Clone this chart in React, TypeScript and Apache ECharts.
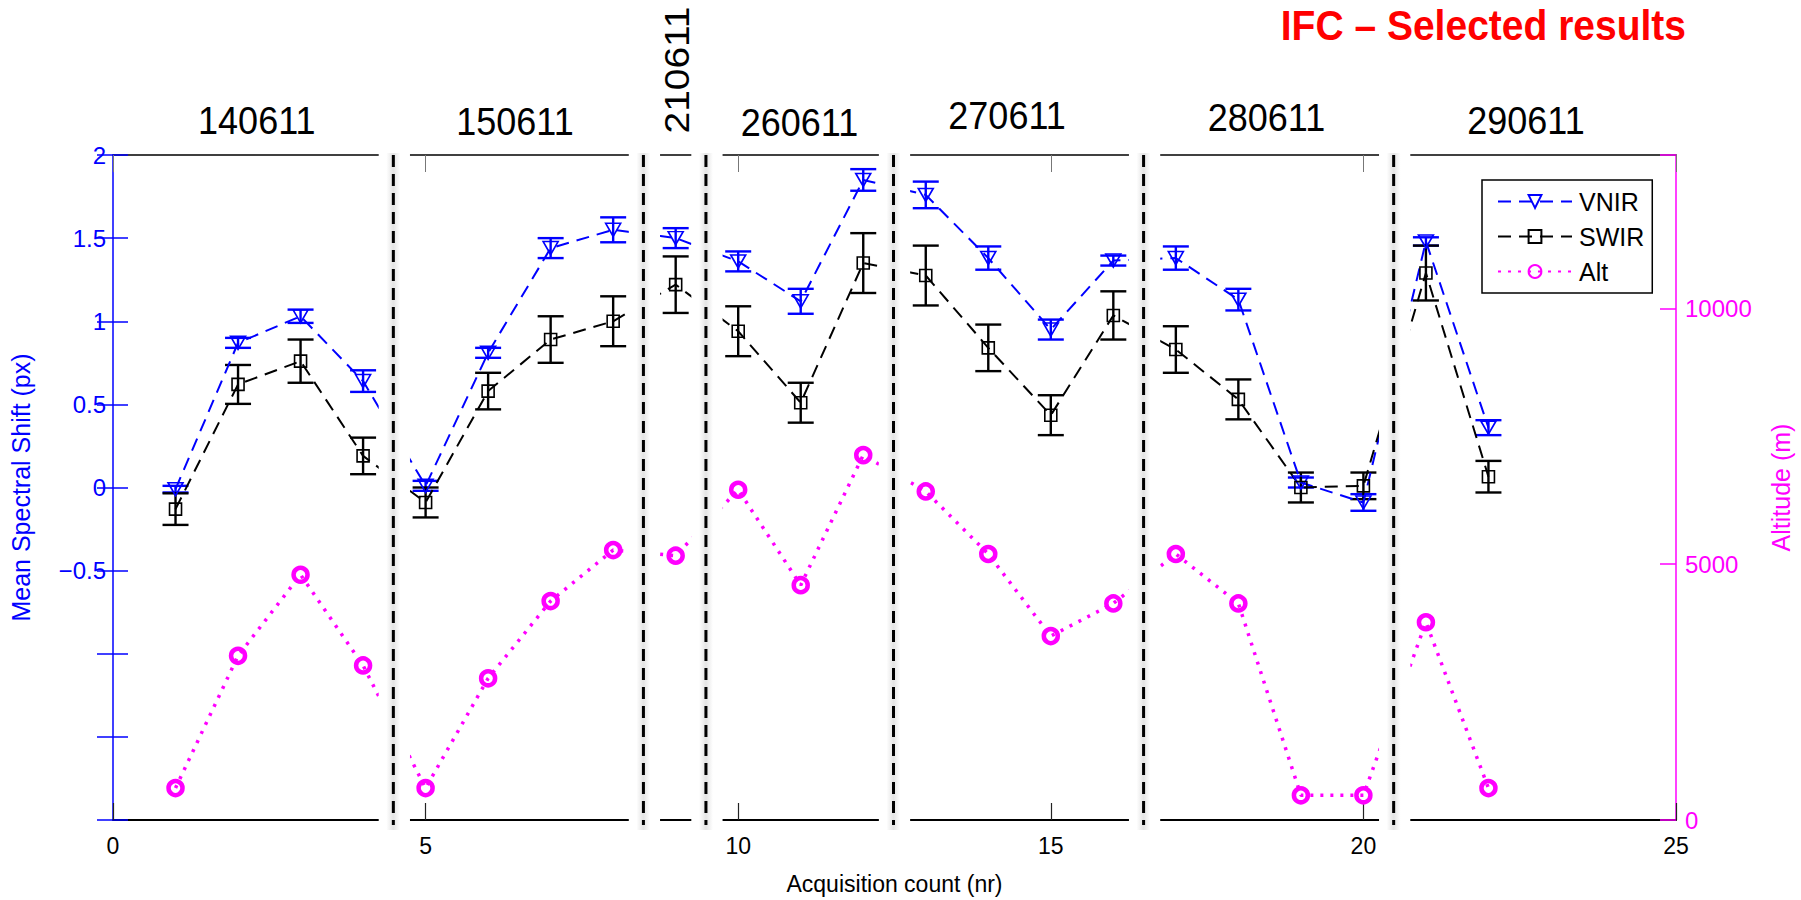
import React, { useEffect, useRef } from "react";
import * as echarts from "echarts";

// Acquisition index of each measurement
const acquisition = [1, 2, 3, 4, 5, 6, 7, 8, 9, 10, 11, 12, 13, 14, 15, 16, 17, 18, 19, 20, 21, 22];

// Mean spectral shift (px) and its standard error per acquisition
const vnirShift = [-0.01, 0.87, 1.03, 0.64, 0.01, 0.81, 1.44, 1.55, 1.5, 1.36, 1.12, 1.85, 1.76, 1.38, 0.95, 1.365, 1.38, 1.13, 0.03, -0.09, 1.48, 0.36];
const vnirErr = [0.02, 0.03, 0.04, 0.065, 0.03, 0.03, 0.06, 0.075, 0.06, 0.06, 0.075, 0.065, 0.08, 0.07, 0.06, 0.03, 0.07, 0.065, 0.03, 0.05, 0.025, 0.045];
const swirShift = [-0.13, 0.62, 0.76, 0.19, -0.09, 0.58, 0.89, 1.0, 1.22, 0.94, 0.51, 1.35, 1.275, 0.84, 0.435, 1.035, 0.83, 0.53, 0.0, 0.01, 1.29, 0.065];
const swirErr = [0.095, 0.117, 0.13, 0.11, 0.09, 0.11, 0.14, 0.15, 0.17, 0.15, 0.12, 0.18, 0.18, 0.14, 0.12, 0.145, 0.14, 0.12, 0.09, 0.08, 0.165, 0.095];

// Flight altitude (m)
const altitude = [624, 3209, 4794, 3022, 624, 2770, 4280, 5277, 5167, 6456, 4591, 7133, 6424, 5200, 3595, 4234, 5200, 4234, 483, 483, 3866, 624];

// Campaign days and the acquisition positions separating them
const campaignDates = ["140611", "150611", "210611", "260611", "270611", "280611", "290611"];
const campaignBreaks = [4.5, 8.5, 9.5, 12.5, 16.5, 20.5];

const FONT = '"Liberation Sans", Arial, Helvetica, sans-serif';
const BLUE = "#0000ff";
const MAGENTA = "#ff00ff";

function errorBars(values: number[], errs: number[]) {
  return acquisition.map((x, i) => [x, values[i] - errs[i], values[i] + errs[i]]);
}

function errorBarSeries(name: string, values: number[], errs: number[], color: string) {
  return {
    name,
    type: "custom",
    xAxisIndex: 0,
    yAxisIndex: 0,
    z: 2,
    silent: true,
    encode: { x: 0, y: [1, 2] },
    data: errorBars(values, errs),
    renderItem: (_params: any, api: any) => {
      const x = api.value(0);
      const lo = api.coord([x, api.value(1)]);
      const hi = api.coord([x, api.value(2)]);
      const hw = 13;
      const style = { stroke: color, lineWidth: 2.4, fill: null };
      return {
        type: "group",
        children: [
          { type: "line", shape: { x1: lo[0], y1: lo[1], x2: hi[0], y2: hi[1] }, style },
          { type: "line", shape: { x1: lo[0] - hw, y1: lo[1], x2: lo[0] + hw, y2: lo[1] }, style },
          { type: "line", shape: { x1: hi[0] - hw, y1: hi[1], x2: hi[0] + hw, y2: hi[1] }, style },
        ],
      };
    },
  };
}

export default function App() {
  const ref = useRef<HTMLDivElement>(null);

  useEffect(() => {
    if (!ref.current) return;
    const chart = echarts.init(ref.current, null, { renderer: "svg" });

    const option: any = {
      animation: false,
      backgroundColor: "#ffffff",
      textStyle: { fontFamily: FONT },
      grid: { left: 105, right: 121, top: 155, bottom: 71, containLabel: false },
      legend: {
        orient: "vertical",
        left: 1482,
        top: 180,
        data: ["VNIR", "SWIR", "Alt"],
        itemWidth: 74,
        itemHeight: 16,
        itemGap: 10,
        padding: [9, 8, 9, 15],
        borderColor: "#000",
        borderWidth: 1.5,
        borderRadius: 0,
        backgroundColor: "#fff",
        textStyle: { fontSize: 25, color: "#000", fontFamily: FONT, padding: [0, 0, 0, 2] },
      },
      xAxis: [
        {
          type: "value",
          position: "bottom",
          min: 0,
          max: 25,
          interval: 5,
          name: "Acquisition count (nr)",
          nameLocation: "middle",
          nameGap: 52,
          nameTextStyle: { fontSize: 23, color: "#000", fontFamily: FONT },
          axisLine: { show: true, onZero: false, lineStyle: { color: "#000", width: 2 } },
          axisTick: { show: true, inside: true, length: 17, lineStyle: { color: "#222", width: 1.2 } },
          axisLabel: { fontSize: 23, color: "#000", margin: 14, fontFamily: FONT },
          splitLine: { show: false },
        },
        {
          type: "value",
          position: "top",
          min: 0,
          max: 25,
          interval: 5,
          axisLine: { show: true, onZero: false, lineStyle: { color: "#000", width: 1.5 } },
          axisTick: { show: true, inside: true, length: 17, lineStyle: { color: "#777", width: 1 } },
          axisLabel: { show: false },
          splitLine: { show: false },
        },
      ],
      yAxis: [
        {
          type: "value",
          position: "left",
          min: -2,
          max: 2,
          interval: 0.5,
          name: "Mean Spectral Shift (px)",
          nameLocation: "middle",
          nameRotate: 90,
          nameGap: 80,
          nameTextStyle: { fontSize: 25, color: BLUE, fontFamily: FONT },
          axisLine: { show: true, onZero: false, lineStyle: { color: BLUE, width: 1.5 } },
          axisTick: { show: true, inside: true, length: 15, lineStyle: { color: BLUE, width: 1.5 } },
          axisLabel: {
            fontSize: 24,
            color: BLUE,
            margin: 7,
            fontFamily: FONT,
            formatter: (v: number) => (v < -0.5 ? "" : v < 0 ? "\u2212" + String(-v) : String(v)),
          },
          splitLine: { show: false },
        },
        {
          type: "value",
          position: "right",
          min: 0,
          max: 13000,
          interval: 5000,
          name: "Altitude (m)",
          nameLocation: "middle",
          nameRotate: 90,
          nameGap: 92,
          nameTextStyle: { fontSize: 25, color: MAGENTA, fontFamily: FONT },
          axisLine: { show: true, onZero: false, lineStyle: { color: MAGENTA, width: 1.5 } },
          axisTick: { show: true, inside: true, length: 16, lineStyle: { color: MAGENTA, width: 1.5 } },
          axisLabel: {
            fontSize: 24,
            color: MAGENTA,
            margin: 9,
            fontFamily: FONT,
            formatter: (v: number) => (v % 5000 === 0 ? String(v) : ""),
          },
          splitLine: { show: false },
        },
        {
          // left-axis ticks repeated on the right edge
          type: "value",
          position: "right",
          min: -2,
          max: 2,
          interval: 0.5,
          axisLine: { show: false },
          axisTick: { show: true, inside: true, length: 16, lineStyle: { color: BLUE, width: 1.5 } },
          axisLabel: { show: false },
          splitLine: { show: false },
        },
      ],
      series: [
        errorBarSeries("VNIR err", vnirShift, vnirErr, BLUE),
        errorBarSeries("SWIR err", swirShift, swirErr, "#000"),
        {
          name: "VNIR",
          type: "line",
          xAxisIndex: 0,
          yAxisIndex: 0,
          z: 3,
          data: acquisition.map((x, i) => [x, vnirShift[i]]),
          symbol: "triangle",
          symbolRotate: 180,
          symbolSize: [15, 13],
          itemStyle: { color: "rgba(255,255,255,0)", borderColor: BLUE, borderWidth: 1.6 },
          lineStyle: { color: BLUE, width: 2, type: [13, 8] },
        },
        {
          name: "SWIR",
          type: "line",
          xAxisIndex: 0,
          yAxisIndex: 0,
          z: 3,
          data: acquisition.map((x, i) => [x, swirShift[i]]),
          symbol: "rect",
          symbolSize: 12,
          itemStyle: { color: "rgba(255,255,255,0)", borderColor: "#000", borderWidth: 1.6 },
          lineStyle: { color: "#000", width: 2, type: [13, 8] },
        },
        {
          name: "Alt",
          type: "line",
          xAxisIndex: 0,
          yAxisIndex: 1,
          z: 3,
          data: acquisition.map((x, i) => [x, altitude[i]]),
          symbol: "circle",
          symbolSize: 14,
          itemStyle: { color: "rgba(255,255,255,0)", borderColor: MAGENTA, borderWidth: 4.5 },
          lineStyle: { color: MAGENTA, width: 3.5, type: [3, 7] },
        },
      ],
    };

    chart.setOption(option);

    // Campaign separators and date headings, placed through the axis scales
    const px = (x: number) => chart.convertToPixel({ xAxisIndex: 0 }, x) as number;
    const py = (y: number) => chart.convertToPixel({ yAxisIndex: 0 }, y) as number;
    const top = py(2);
    const bottom = py(-2);

    const graphics: any[] = [];
    campaignBreaks.forEach((g) => {
      const x0 = px(g - 0.25);
      const x1 = px(g + 0.25);
      const xc = px(g) - 1;
      graphics.push({
        type: "rect",
        z: 100,
        silent: true,
        shape: { x: x0, y: top - 4, width: x1 - x0, height: bottom - top + 8 },
        style: { fill: "#ffffff" },
      });
      graphics.push({
        type: "rect",
        z: 101,
        silent: true,
        shape: { x: xc - 7, y: top - 2, width: 14, height: bottom - top + 12 },
        style: {
          fill: {
            type: "linear",
            x: 0,
            y: 0,
            x2: 1,
            y2: 0,
            colorStops: [
              { offset: 0, color: "rgba(200,200,200,0)" },
              { offset: 0.5, color: "rgba(200,200,200,0.5)" },
              { offset: 1, color: "rgba(200,200,200,0)" },
            ],
          },
        },
      });
      graphics.push({
        type: "line",
        z: 102,
        silent: true,
        shape: { x1: xc, y1: top, x2: xc, y2: bottom + 5 },
        style: { stroke: "#000", lineWidth: 3, lineDash: [12, 7] },
      });
    });

    // heading anchors in acquisition units (x) and pixel rows (y)
    const headingX = [2.3, 6.43, 9.02, 10.98, 14.3, 18.45, 22.6];
    const headingY = [121, 122, 70, 123, 116, 118, 121];
    campaignDates.forEach((d, i) => {
      const vertical = i === 2;
      graphics.push({
        type: "text",
        z: 103,
        x: px(headingX[i]),
        y: headingY[i],
        rotation: vertical ? Math.PI / 2 : 0,
        scaleX: vertical ? 1.08 : 1,
        scaleY: vertical ? 1 : 1.08,
        style: {
          text: d,
          fontSize: 36,
          fontFamily: FONT,
          fill: "#000",
          textAlign: "center",
          textVerticalAlign: "middle",
        },
      });
    });

    graphics.push({
      type: "text",
      z: 103,
      x: 1686,
      y: 25,
      scaleY: 1.1,
      style: {
        text: "IFC \u2013 Selected results",
        fontSize: 39,
        fontWeight: "bold",
        fontFamily: FONT,
        fill: "#ff0000",
        textAlign: "right",
        textVerticalAlign: "middle",
      },
    });

    chart.setOption({ graphic: graphics });

    return () => {
      chart.dispose();
    };
  }, []);

  return (
    <div
      ref={ref}
      style={{ position: "absolute", left: 0, top: 0, width: 1801, height: 900, background: "#fff" }}
    />
  );
}
